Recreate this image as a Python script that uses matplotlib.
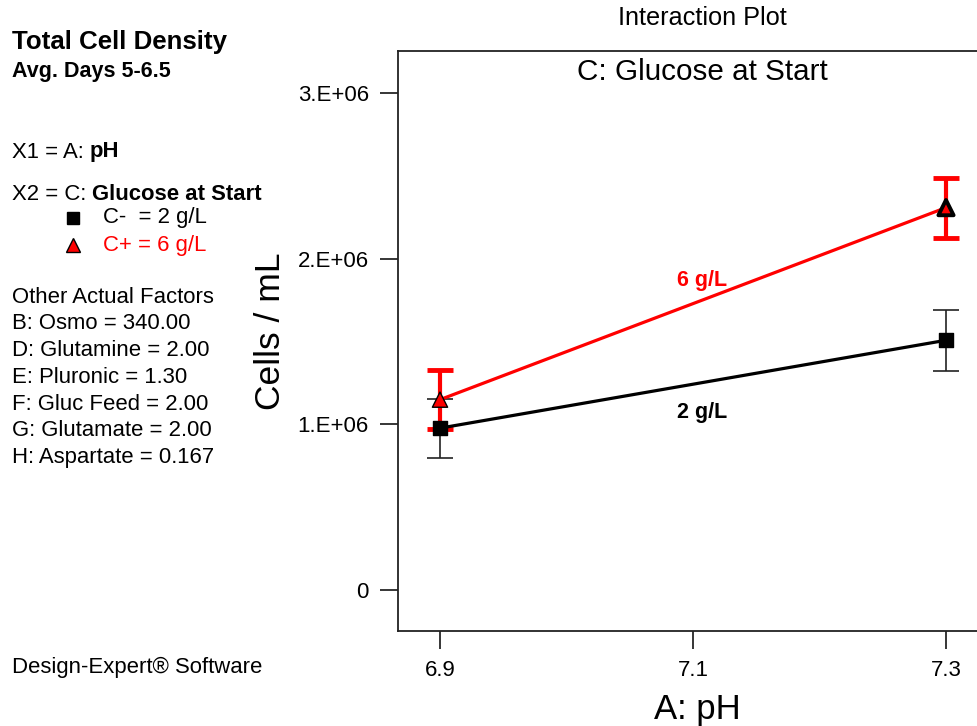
import matplotlib
matplotlib.use('Agg')
import matplotlib.pyplot as plt
from matplotlib.lines import Line2D

plt.rcParams['font.family'] = ['Liberation Sans', 'DejaVu Sans']

# ---- data ----
ph_levels = [6.9, 7.3]
low_glucose_means = [0.978e6, 1.508e6]   # C- = 2 g/L
low_glucose_err = [0.178e6, 0.183e6]
high_glucose_means = [1.150e6, 2.308e6]  # C+ = 6 g/L
high_glucose_err = [0.180e6, 0.181e6]

x_ticks = [6.9, 7.1, 7.3]
x_tick_labels = ['6.9', '7.1', '7.3']
y_ticks = [0, 1e6, 2e6, 3e6]
y_tick_labels = ['0', '1.E+06', '2.E+06', '3.E+06']

other_factors = [
    "Other Actual Factors",
    "B: Osmo = 340.00",
    "D: Glutamine = 2.00",
    "E: Pluronic = 1.30",
    "F: Gluc Feed = 2.00",
    "G: Glutamate = 2.00",
    "H: Aspartate = 0.167",
]

W, H = 978, 726
fig = plt.figure(figsize=(W / 100, H / 100), dpi=100)

def fx(px):
    return px / W

def fy(py):
    return 1 - py / H

ax_left, ax_right, ax_top, ax_bottom = 398, 1000, 51, 631.3
ax = fig.add_axes([fx(ax_left), fy(ax_bottom), (ax_right - ax_left) / W, (ax_bottom - ax_top) / H])

# error bars
ax.errorbar(ph_levels, low_glucose_means, yerr=low_glucose_err, fmt='none',
            ecolor='#222222', elinewidth=1.2, capsize=9.5, capthick=1.2, zorder=2)
ax.errorbar(ph_levels, high_glucose_means, yerr=high_glucose_err, fmt='none',
            ecolor='#ff0000', elinewidth=3, capsize=9.5, capthick=3.5, zorder=3)

# lines
ax.plot(ph_levels, low_glucose_means, color='black', lw=2.3, zorder=4)
ax.plot(ph_levels, high_glucose_means, color='#ff0000', lw=2.3, zorder=4)

# markers
ax.scatter(ph_levels, low_glucose_means, marker='s', s=105, color='black', zorder=6)
ax.scatter(ph_levels, high_glucose_means, marker='^', s=120, facecolor='#ff0000',
           edgecolor='black', linewidths=[1.0, 2.8], zorder=6)

# in-plot labels
ax.text(7.107, 1.871e6, '6 g/L', color='#ff0000', fontweight='bold', fontsize=15.5,
        ha='center', va='center')
ax.text(7.107, 1.071e6, '2 g/L', color='black', fontweight='bold', fontsize=15.5,
        ha='center', va='center')

x0 = 6.9 - (440 - ax_left) / 1265
x1 = 7.3 + (ax_right - 946) / 1265
ax.set_xlim(x0, x1)
y0 = -(ax_bottom - 590.3) / 165.8 * 1e6
y1 = (590.3 - ax_top) / 165.8 * 1e6
ax.set_ylim(y0, y1)

ax.set_xticks(x_ticks)
ax.set_xticklabels(x_tick_labels)
ax.set_yticks(y_ticks)
ax.set_yticklabels(y_tick_labels)
ax.tick_params(direction='out', length=13, width=1.1, pad=8, labelsize=16, colors='black')
for t in ax.xaxis.get_ticklines() + ax.yaxis.get_ticklines():
    t.set_color('#333333')

for side in ['left', 'bottom', 'top']:
    ax.spines[side].set_linewidth(1.3)
    ax.spines[side].set_color('#222222')
ax.spines['right'].set_visible(False)

ax.set_xlabel('A: pH', fontsize=25)
ax.xaxis.set_label_coords((697 - ax_left) / (ax_right - ax_left), -(710 - ax_bottom) / (ax_bottom - ax_top))
ax.xaxis.label.set_va('center')
ax.set_ylabel('Cells / mL', fontsize=25.5)
ax.yaxis.set_label_coords(-(ax_left - 271) / (ax_right - ax_left), (ax_bottom - 331) / (ax_bottom - ax_top))
ax.yaxis.label.set_va('center')

fig.text(fx(702), fy(18), 'Interaction Plot', fontsize=18.2, ha='center', va='center')
fig.text(fx(702), fy(72), 'C: Glucose at Start', fontsize=21.3, ha='center', va='center')

# ---- left panel ----
fs = 15.9
fig.text(fx(12), fy(42), 'Total Cell Density', fontsize=18.6, fontweight='bold', va='center')
fig.text(fx(12), fy(72), 'Avg. Days 5-6.5', fontsize=15.5, fontweight='bold', va='center')

t1 = fig.text(fx(12), fy(152), 'X1 = A: ', fontsize=fs, va='center')
ax.annotate('pH', xy=(1, 0), xycoords=t1, fontsize=fs, fontweight='bold',
            ha='left', va='bottom', annotation_clip=False)
t2 = fig.text(fx(12), fy(194), 'X2 = C: ', fontsize=fs, va='center')
ax.annotate('Glucose at Start', xy=(1, 0), xycoords=t2, fontsize=fs, fontweight='bold',
            ha='left', va='bottom', annotation_clip=False)

fig.add_artist(Line2D([fx(73)], [fy(218)], marker='s', markersize=8.5, color='black',
                      linestyle='none', transform=fig.transFigure))
fig.text(fx(103), fy(218), 'C-  = 2 g/L', fontsize=fs, va='center')
fig.add_artist(Line2D([fx(73)], [fy(245)], marker='^', markersize=9.5, markerfacecolor='#ff0000',
                      markeredgecolor='black', markeredgewidth=1.0, linestyle='none',
                      transform=fig.transFigure))
fig.text(fx(103), fy(245), 'C+ = 6 g/L', fontsize=fs, va='center', color='#ff0000')

for i, line in enumerate(other_factors):
    fig.text(fx(12), fy(297 + i * 26.8), line, fontsize=fs, va='center')

fig.text(fx(12), fy(667), 'Design-Expert\u00ae Software', fontsize=fs, va='center')

fig.savefig('out.png', dpi=100)
